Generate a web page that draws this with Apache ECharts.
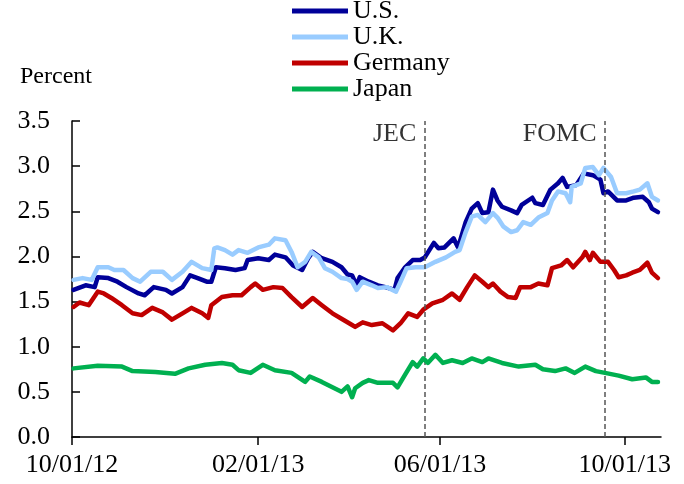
<!DOCTYPE html>
<html>
<head>
<meta charset="utf-8">
<script src="https://cdn.jsdelivr.net/npm/echarts@6/dist/echarts.min.js"></script>
<style>html,body{margin:0;padding:0;background:#fff}#c{width:684px;height:484px}</style>
</head>
<body>
<div id="c"></div>
<script>
// Dates are given as days since 10/01/12
var startDate = [2012, 9, 1];
var tickDates = ['2012-10-01', '2013-02-01', '2013-06-01', '2013-10-01'];
var axisEndDay = 389;
var yTicks = [0, 0.5, 1.0, 1.5, 2.0, 2.5, 3.0, 3.5];
var seriesNames = ['U.S.', 'U.K.', 'Germany', 'Japan'];
var eventNames = ['JEC', 'FOMC'];
var eventDates = ['2013-05-22', '2013-09-18'];

var usData = [[1,1.63],[9,1.68],[15,1.66],[17,1.77],[24,1.76],[30,1.72],[36,1.66],[44,1.59],[48,1.57],[54,1.66],[62,1.63],[66,1.59],[73,1.66],[78,1.79],[83,1.76],[89,1.72],[92,1.72],[95,1.88],[101,1.87],[108,1.85],[114,1.87],[116,1.96],[123,1.98],[130,1.96],[134,2.02],[141,1.99],[146,1.90],[152,1.85],[156,1.98],[159,2.05],[165,1.98],[172,1.94],[178,1.88],[182,1.80],[185,1.79],[188,1.68],[190,1.77],[196,1.72],[202,1.68],[207,1.66],[213,1.63],[215,1.76],[220,1.88],[225,1.96],[230,1.96],[233,1.99],[239,2.15],[242,2.09],[246,2.10],[252,2.20],[255,2.10],[260,2.38],[264,2.53],[268,2.59],[271,2.48],[275,2.49],[278,2.74],[281,2.62],[284,2.55],[290,2.51],[294,2.48],[297,2.57],[304,2.65],[306,2.59],[311,2.57],[316,2.74],[321,2.81],[324,2.87],[327,2.77],[333,2.79],[338,2.92],[344,2.90],[349,2.85],[351,2.70],[354,2.72],[360,2.62],[366,2.62],[371,2.65],[377,2.66],[381,2.60],[383,2.53],[387,2.49]];
var ukData = [[1,1.74],[7,1.76],[13,1.74],[17,1.88],[24,1.88],[28,1.85],[34,1.85],[40,1.76],[45,1.72],[52,1.83],[60,1.83],[66,1.74],[73,1.83],[79,1.94],[86,1.87],[92,1.85],[94,2.09],[96,2.10],[101,2.07],[106,2.02],[110,2.07],[116,2.04],[123,2.10],[130,2.13],[134,2.20],[141,2.18],[145,2.05],[149,1.88],[154,1.94],[158,2.05],[163,1.99],[167,1.87],[172,1.83],[178,1.76],[182,1.75],[185,1.72],[188,1.63],[192,1.72],[198,1.68],[202,1.65],[208,1.66],[214,1.61],[217,1.72],[221,1.87],[227,1.88],[233,1.88],[240,1.94],[247,1.99],[253,2.05],[256,2.07],[260,2.27],[264,2.44],[268,2.46],[273,2.38],[278,2.48],[281,2.43],[285,2.33],[290,2.27],[294,2.29],[298,2.38],[303,2.35],[308,2.43],[314,2.48],[317,2.62],[321,2.72],[326,2.70],[329,2.60],[330,2.77],[336,2.81],[339,2.98],[344,2.99],[348,2.90],[351,2.98],[356,2.88],[360,2.70],[366,2.70],[371,2.72],[375,2.74],[380,2.81],[383,2.66],[387,2.62]];
var deData = [[1,1.44],[5,1.49],[11,1.46],[17,1.61],[21,1.59],[26,1.54],[33,1.46],[40,1.37],[46,1.35],[53,1.43],[60,1.38],[66,1.30],[73,1.37],[79,1.43],[86,1.37],[90,1.32],[92,1.46],[99,1.55],[106,1.57],[112,1.57],[118,1.66],[121,1.70],[126,1.63],[133,1.66],[139,1.65],[145,1.55],[152,1.44],[159,1.54],[165,1.46],[172,1.37],[178,1.31],[185,1.24],[187,1.22],[192,1.27],[198,1.24],[205,1.26],[212,1.18],[217,1.26],[222,1.37],[228,1.33],[232,1.41],[238,1.48],[245,1.52],[251,1.59],[256,1.52],[261,1.66],[266,1.79],[271,1.72],[275,1.66],[278,1.70],[283,1.61],[288,1.55],[293,1.54],[296,1.66],[303,1.66],[308,1.70],[314,1.68],[317,1.87],[323,1.90],[327,1.96],[331,1.88],[337,1.99],[339,2.05],[342,1.96],[344,2.04],[349,1.94],[354,1.94],[358,1.85],[361,1.77],[366,1.79],[370,1.82],[375,1.85],[380,1.93],[383,1.82],[387,1.76]];
var jpData = [[1,0.76],[17,0.79],[33,0.78],[40,0.73],[55,0.72],[68,0.70],[77,0.76],[88,0.80],[99,0.82],[106,0.80],[110,0.74],[118,0.71],[126,0.80],[134,0.74],[145,0.71],[154,0.61],[157,0.67],[165,0.61],[178,0.50],[182,0.56],[185,0.44],[187,0.54],[192,0.60],[196,0.63],[202,0.60],[212,0.60],[215,0.55],[220,0.69],[225,0.83],[228,0.78],[232,0.87],[235,0.82],[240,0.91],[245,0.82],[251,0.85],[258,0.82],[264,0.87],[271,0.83],[275,0.87],[284,0.82],[295,0.78],[306,0.80],[311,0.75],[319,0.73],[326,0.76],[332,0.71],[339,0.78],[346,0.73],[352,0.71],[361,0.68],[370,0.64],[379,0.66],[383,0.61],[387,0.61]];

function dayToTime(d) { return new Date(startDate[0], startDate[1], startDate[2] + d).getTime(); }
function strToTime(s) { var p = s.split('-'); return new Date(+p[0], +p[1] - 1, +p[2]).getTime(); }
function conv(arr) { return arr.map(function (p) { return [dayToTime(p[0]), p[1]]; }); }
function pad(n) { return (n < 10 ? '0' : '') + n; }
function fmtDate(v) { var d = new Date(v); return pad(d.getMonth() + 1) + '/' + pad(d.getDate()) + '/' + pad(d.getFullYear() % 100); }

var FONT = '"Liberation Serif", "Times New Roman", serif';
var colors = ['#000099', '#99CCFF', '#C00000', '#00B050'];
var allData = [usData, ukData, deData, jpData];
var ticks = tickDates.map(strToTime);

var series = seriesNames.map(function (n, i) {
  return {
    name: n, type: 'line', data: conv(allData[i]), showSymbol: false, symbol: 'none',
    lineStyle: { width: 4.5, color: colors[i], join: 'round', cap: 'round' },
    itemStyle: { color: colors[i] }, z: 2 + i
  };
});
series.push({
  name: 'events', type: 'scatter', symbolSize: 1, itemStyle: { color: 'transparent' },
  data: eventDates.map(function (d, i) { return { value: [strToTime(d), 3.35], name: eventNames[i] }; }),
  label: { show: true, position: 'left', distance: 8, formatter: '{b}', fontFamily: FONT, fontSize: 26, color: '#000' },
  markLine: {
    silent: true, symbol: 'none', label: { show: false },
    lineStyle: { color: '#555', type: [5, 3], width: 1.5 },
    data: eventDates.map(function (d) { return { xAxis: strToTime(d) }; })
  },
  z: 1
});

var chart = echarts.init(document.getElementById('c'));
chart.setOption({
  animation: false,
  backgroundColor: '#fff',
  title: { text: 'Percent', left: 15, top: 60, textStyle: { fontFamily: FONT, fontSize: 24, fontWeight: 'normal', color: '#000' } },
  legend: {
    data: seriesNames, orient: 'vertical', left: 287, top: -7, itemGap: 0,
    icon: 'rect', itemWidth: 56, itemHeight: 5,
    textStyle: { fontFamily: FONT, fontSize: 26, color: '#000' }
  },
  grid: { left: 72, right: 23, top: 121, bottom: 47 },
  xAxis: {
    type: 'value', min: dayToTime(0), max: dayToTime(axisEndDay), scale: true,
    axisLine: { lineStyle: { color: '#000', width: 1.5 } },
    axisTick: { show: true, length: 8, inside: false, customValues: ticks, lineStyle: { color: '#000', width: 1.5 } },
    axisLabel: { customValues: ticks, formatter: function (v) { return fmtDate(v); }, fontFamily: FONT, fontSize: 26, color: '#000', margin: 15, hideOverlap: false },
    splitLine: { show: false }
  },
  yAxis: {
    type: 'value', min: 0, max: 3.5, interval: 0.5,
    axisLine: { show: true, lineStyle: { color: '#000', width: 1.5 } },
    axisTick: { show: true, inside: true, length: 8, lineStyle: { color: '#000', width: 1.5 } },
    axisLabel: { formatter: function (v) { return v.toFixed(1); }, fontFamily: FONT, fontSize: 26, color: '#000', margin: 22 },
    splitLine: { show: false }
  },
  series: series
});
</script>
</body>
</html>
